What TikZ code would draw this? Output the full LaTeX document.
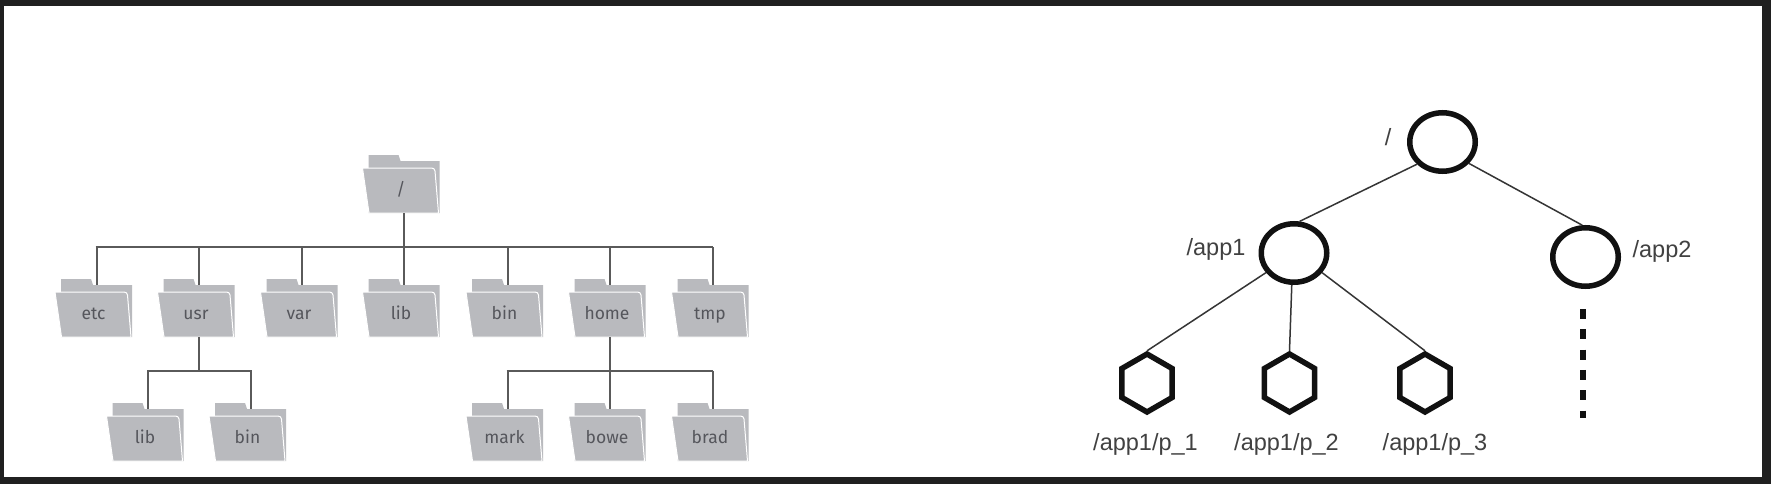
\documentclass[tikz,border=0pt]{standalone}
\usepackage{fontspec}
\setmainfont{Liberation Sans}
\newfontfamily\foldfont{Fira Sans}
\usetikzlibrary{shapes.geometric}
\definecolor{framedark}{HTML}{202020}
\definecolor{foldergrey}{HTML}{B9BABE}
\definecolor{foldertext}{HTML}{55565C}
\definecolor{wiregrey}{HTML}{5A5A5A}
\definecolor{inkdark}{HTML}{111111}
\tikzset{
    folderpic/.pic={
        \fill[foldergrey] (-32.5,-29) -- (-2.5,-29) -- (-0.5,-23) -- (38.5,-23) -- (38.5,29) -- (-32.5,29) -- cycle;
        \filldraw[fill=foldergrey, draw=white, line width=1pt] (-38.5,-16) -- (30.5,-16) .. controls (32.5,-16) and (33.5,-15) .. (34,-13) -- (37.5,29) -- (-32,29) -- cycle;
    },
    folder/.style={inner sep=0pt, minimum width=77pt, text height=40pt, text depth=18pt,
        font=\foldfont\fontsize{17.5}{18}\selectfont, text=foldertext},
    wire/.style={draw=wiregrey, line width=2pt},
    edge/.style={draw=inkdark!85, line width=1.5pt},
    znode/.style={ellipse, draw=inkdark, line width=5.5pt, minimum width=65.5pt, minimum height=58.5pt, inner sep=0pt},
    hexnode/.style={regular polygon, regular polygon sides=6, shape border rotate=30, draw=inkdark, line width=5.5pt, minimum size=58pt, inner sep=0pt},
    lbl/.style={text=inkdark!80, font=\fontsize{23.5}{24}\selectfont, inner sep=0pt, anchor=base}
}
\begin{document}
\begin{tikzpicture}[x=1pt,y=-1pt]
    \useasboundingbox (0,0) rectangle (1771,484);
    \fill[framedark] (0,0) rectangle (1771,484);
    \fill[white] (4,6) rectangle (1762,477);

    % folders
    \pic at (401,184) {folderpic};
    \node[folder] (root) at (401,184) {/};
    \foreach \name/\x in {etc/93.5,usr/196,var/299,lib/401,bin/504.5,home/607,tmp/710}{
        \pic at (\x,308) {folderpic};
        \node[folder] (\name) at (\x,308) {\name};
    }
    \foreach \name/\txt/\x in {usrlib/lib/145,usrbin/bin/247.5,mark/mark/504.5,bowe/bowe/607,brad/brad/710}{
        \pic at (\x,432) {folderpic};
        \node[folder] (\name) at (\x,432) {\txt};
    }

    \coordinate (bus) at (0,247);
    \coordinate (usrbus) at (0,371);
    \draw[wire] ([xshift=3pt]root.south) -- ([xshift=3pt]root.south |- bus);
    \draw[wire] ([xshift=2pt]etc.north |- bus) -- ([xshift=3pt]tmp.north |- bus);
    \foreach \name in {etc,usr,var,lib,bin,home,tmp}
        \draw[wire] ([shift={(3pt,-6pt)}]\name.north) -- ([xshift=3pt]\name.north |- bus);
    \draw[wire] ([xshift=3pt]usr.south) -- ([xshift=3pt]usr.south |- usrbus);
    \draw[wire] ([xshift=3pt]home.south) -- ([xshift=3pt]home.south |- usrbus);
    \draw[wire] ([xshift=2pt]usrlib.north |- usrbus) -- ([xshift=4pt]usrbin.north |- usrbus);
    \draw[wire] ([xshift=2pt]mark.north |- usrbus) -- ([xshift=3pt]brad.north |- usrbus);
    \foreach \name in {usrlib,usrbin,mark,bowe,brad}
        \draw[wire] ([shift={(3pt,-6pt)}]\name.north) -- ([xshift=3pt]\name.north |- usrbus);

    % znodes
    \node[znode] (nroot) at (1442.5,142) {};
    \node[znode] (napp1) at (1294,253) {};
    \node[znode] (napp2) at (1585.5,257) {};
    \node[hexnode] (np1) at (1147,383) {};
    \node[hexnode] (np2) at (1289.5,383) {};
    \node[hexnode] (np3) at (1425,383) {};
    \draw[edge] (nroot.221) -- (napp1.80);
    \draw[edge] (nroot.-39) -- (napp2.96);
    \draw[edge] (napp1.215) -- (np1.corner 1);
    \draw[edge] (napp1.266) -- (np2.corner 1);
    \draw[edge] (napp1.-35) -- (np3.corner 1);

    \coordinate (dotsA) at (1583,309);
    \coordinate (dotsB) at (1583,418);
    \draw[draw=inkdark, line width=6pt, dash pattern=on 10pt off 10.3pt] (dotsA) -- (dotsB);

    \node[lbl] (lroot) at (1388,146) {/};
    \node[lbl] (lapp1) at (1216,255) {/app1};
    \node[lbl] (lapp2) at (1662,257) {/app2};
    \node[lbl] (lp1) at (1145.5,450) {/app1/p\_1};
    \node[lbl] (lp2) at (1286.5,450) {/app1/p\_2};
    \node[lbl] (lp3) at (1435,450) {/app1/p\_3};
\end{tikzpicture}
\end{document}
